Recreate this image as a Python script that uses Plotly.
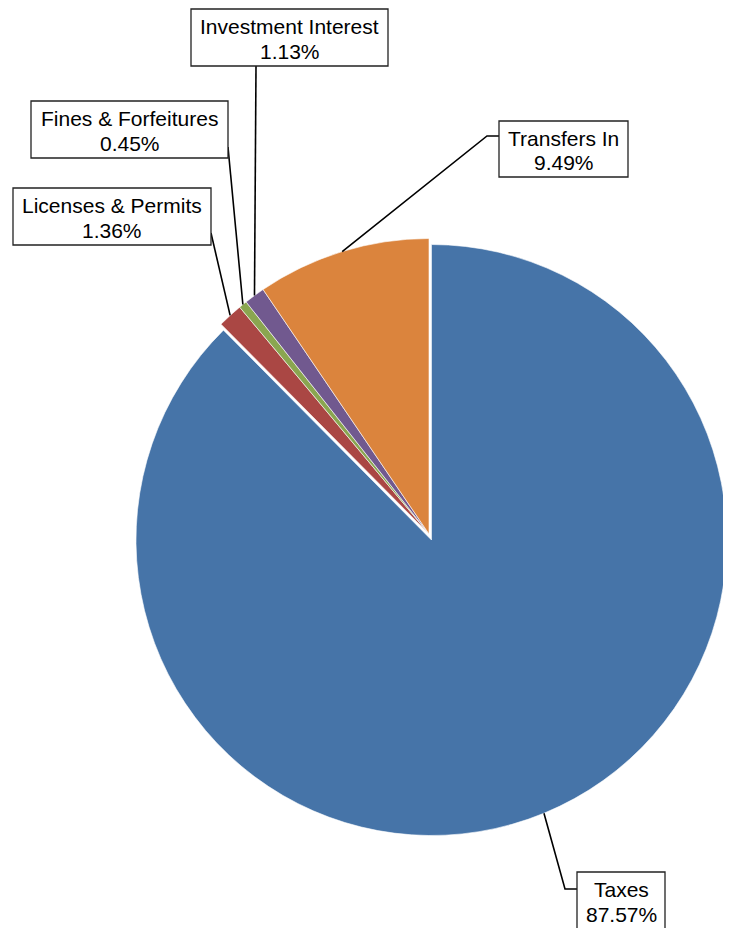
import math
import plotly.graph_objects as go

# ---- data ----
categories = ["Taxes", "Licenses & Permits", "Fines & Forfeitures",
              "Investment Interest", "Transfers In"]
shares = [87.57, 1.36, 0.45, 1.13, 9.49]
colors = ["#4674A8", "#AA4744", "#8AA650", "#71598F", "#DB843D"]
pulls = [0.022, 0, 0, 0, 0]

# ---- layout geometry (page pixels; the page body has an 8px margin) ----
OFF = 8
PAGE_W, PAGE_H = 731, 928
W, H = PAGE_W - OFF, PAGE_H - OFF
cx_px, cy_px = 429.0, 534.0
half = PAGE_W - cx_px  # half size of the pie domain box
r_px = half / (1 + max(pulls))

def px_to_paper(x, y):
    return (x - OFF) / W, 1 - (y - OFF) / H

dx0, dy0 = px_to_paper(cx_px - half, cy_px + half)
dx1, dy1 = px_to_paper(cx_px + half, cy_px - half)

# label boxes (x0, y0, x1, y1) and the points where leaders leave them
label_boxes = [(577, 872, 665, 932), (13, 188, 211, 245), (31, 101, 228, 158),
               (191, 9, 388, 66), (499, 121, 628, 177)]
leader_starts = [[(577, 889), (565, 889)], [(211, 233)], [(228, 147)],
                 [(256, 66)], [(499, 136), (487, 136)]]
FONT = dict(family="Liberation Sans, Arial, sans-serif", size=21, color="black")

fig = go.Figure(go.Pie(
    labels=categories, values=shares, sort=False, direction="clockwise",
    rotation=0, pull=pulls, textinfo="none", hoverinfo="label+percent",
    marker=dict(colors=colors, line=dict(color="white", width=0.6)),
    domain=dict(x=[max(dx0, 0), min(dx1, 1)], y=[dy0, dy1]), showlegend=False,
))

total = sum(shares)
cum = 0.0
shapes, annotations = [], []
for i, (name, v) in enumerate(zip(categories, shares)):
    mid = (cum + v / 2) / total * 2 * math.pi
    cum += v
    scx = cx_px + pulls[i] * r_px * math.sin(mid)
    scy = cy_px - pulls[i] * r_px * math.cos(mid)
    ex = scx + r_px * math.sin(mid)
    ey = scy - r_px * math.cos(mid)
    pts = leader_starts[i] + [(ex, ey)]
    path = ""
    for j, (px, py) in enumerate(pts):
        u, w = px_to_paper(px, py)
        path += ("M" if j == 0 else " L") + f" {u:.5f},{w:.5f}"
    shapes.append(dict(type="path", path=path, xref="paper", yref="paper",
                       line=dict(color="black", width=1.6), layer="above"))
    bx0, by0, bx1, by1 = label_boxes[i]
    u0, w1 = px_to_paper(bx0, by0)
    u1, w0 = px_to_paper(bx1, by1)
    shapes.append(dict(type="rect", x0=u0, x1=u1, y0=w0, y1=w1,
                       xref="paper", yref="paper", fillcolor="white",
                       line=dict(color="#222222", width=1.3), layer="above"))
    xc = (bx0 + bx1) / 2
    for k, (txt, dy) in enumerate([(name, 17.5), (f"{v:.2f}%", 42.0)]):
        ux, uy = px_to_paper(xc, by0 + dy)
        annotations.append(dict(
            x=ux, y=uy, xref="paper", yref="paper", xanchor="center",
            yanchor="middle", text=txt, showarrow=False, font=FONT,
        ))

fig.update_layout(
    width=W, height=H, margin=dict(l=0, r=0, t=0, b=0),
    paper_bgcolor="white", plot_bgcolor="white",
    shapes=shapes, annotations=annotations,
)

fig.write_html("out.html")
